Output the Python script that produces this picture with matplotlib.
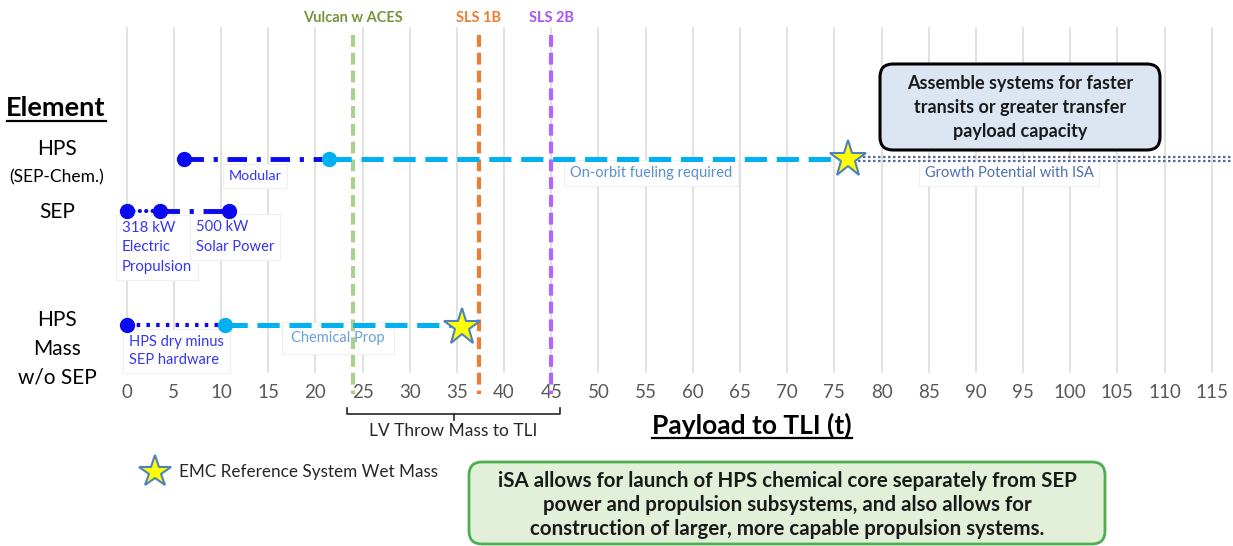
import matplotlib
matplotlib.use('Agg')
import matplotlib.pyplot as plt
from matplotlib.patches import FancyBboxPatch
from matplotlib.transforms import Affine2D

plt.rcParams['font.family'] = ['Lato', 'DejaVu Sans']
plt.rcParams['lines.scale_dashes'] = False

# ---------------- data ----------------
ticks = list(range(0, 116, 5))
launchers = ['Vulcan w ACES', 'SLS 1B', 'SLS 2B']
launch_mass = [24.0, 37.3, 45.0]
launch_colors = ['#a9d18e', '#f07c33', '#b366ff']
launch_text_colors = ['#77933c', '#f07c33', '#a855f7']

hps_modular = [6.1, 21.4]      # HPS (SEP-Chem.) modular segment
hps_wet = 76.4                 # HPS EMC reference wet mass
sep_points = [0.0, 3.5, 10.8]  # SEP: 0, 318 kW EP, 500 kW solar power
hpsws_dry = [0.0, 10.4]        # HPS w/o SEP: dry mass
hpsws_wet = 35.5               # HPS w/o SEP: wet mass
growth_end = 117.3

# ---------------- figure ----------------
W, H = 1233, 546
fig = plt.figure(figsize=(W / 100, H / 100), dpi=100)
ax = fig.add_axes([0, 0, 1, 1])
x0_px, px_per_t = 126.7, 9.435
ax.set_xlim(-x0_px / px_per_t, (W - x0_px) / px_per_t)
ax.set_ylim(H, 0)
ax.axis('off')
PIX = Affine2D().scale(1 / W, -1 / H).translate(0, 1) + fig.transFigure

DARK = '#0a0af0'
LIGHT = '#00b0f0'
LBLUE_TXT = '#3535f5'

y_hps, y_sep, y_wo = 159, 211, 325

# gridlines and tick labels
for t in ticks:
    ax.plot([t, t], [28, 372], color='#d9d9d9', lw=1.1, zorder=1)
    ax.text(t, 393, str(t), ha='center', va='center', fontsize=13.5, color='#595959')

# launch vehicle lines
for name, m, c, tc in zip(launchers, launch_mass, launch_colors, launch_text_colors):
    ax.plot([m, m], [35, 394], color=c, lw=3, dashes=(8.5, 4.3), zorder=3)
    ax.text(m, 18, name, ha='center', va='center', fontsize=10.5, fontweight='bold', color=tc)

# LV throw mass bracket
lo, hi = launch_mass[0] - 0.6, launch_mass[-1] + 0.9
mid = (lo + hi) / 2
ax.plot([lo, lo, hi, hi], [408, 414, 414, 408], color='#262626', lw=1.2, zorder=3)
ax.plot([mid, mid], [414, 420], color='#262626', lw=1.2, zorder=3)
ax.text(mid, 431, 'LV Throw Mass to TLI', ha='center', va='center', fontsize=12.5, color='#262626')

lbl_box = dict(boxstyle='square,pad=0.4', fc='white', ec='#f0f0f0', lw=0.8)

# HPS (SEP-Chem.) row
ax.plot(hps_modular, [y_hps, y_hps], color=DARK, lw=3.5, dashes=(14, 7, 3, 7), zorder=4)
ax.plot([hps_modular[1], hps_wet], [y_hps, y_hps], color=LIGHT, lw=3.6, dashes=(16, 7), zorder=4)
for dy in (-2, 2):
    ax.plot([hps_wet, growth_end], [y_hps + dy, y_hps + dy], color='#5a6a9a', lw=1.6,
            dashes=(1.8, 1.8), zorder=4)
ax.plot([hps_modular[0]], [y_hps], 'o', color=DARK, ms=10, zorder=5)
ax.plot([hps_modular[1]], [y_hps], 'o', color=LIGHT, ms=10, zorder=5)
ax.plot([hps_wet], [y_hps], '*', ms=28, mfc='#ffff00', mec='#4f81bd', mew=1.5, zorder=6)
ax.text(255, 176, 'Modular', transform=PIX, ha='center', va='center', fontsize=10.3,
        color=LBLUE_TXT, bbox=lbl_box, zorder=2)
ax.text(651, 173, 'On-orbit fueling required', transform=PIX, ha='center', va='center',
        fontsize=10.5, color='#5b8fd0', bbox=lbl_box, zorder=2)
ax.text(1009, 173, 'Growth Potential with ISA', transform=PIX, ha='center', va='center',
        fontsize=10.5, color='#4f6fae', bbox=lbl_box, zorder=2)

# SEP row
ax.plot(sep_points[:2], [y_sep, y_sep], color=DARK, lw=3, dashes=(0.1, 4.5),
        dash_capstyle='round', zorder=4)
ax.plot(sep_points[1:], [y_sep, y_sep], color=DARK, lw=3.5, dashes=(14, 7, 3, 7), zorder=4)
ax.plot(sep_points, [y_sep] * 3, 'o', color=DARK, ms=10, zorder=5)
ax.text(122, 247, '318 kW\nElectric\nPropulsion', transform=PIX, ha='left', va='center',
        fontsize=10.8, color=LBLUE_TXT, linespacing=1.5, bbox=lbl_box, zorder=2)
ax.text(196, 237, '500 kW\nSolar Power', transform=PIX, ha='left', va='center',
        fontsize=10.6, color=LBLUE_TXT, linespacing=1.5, bbox=lbl_box, zorder=2)

# HPS mass w/o SEP row
ax.plot(hpsws_dry, [y_wo, y_wo], color=DARK, lw=3, dashes=(2.5, 4.5), zorder=4)
ax.plot([hpsws_dry[1], hpsws_wet], [y_wo, y_wo], color=LIGHT, lw=3.6, dashes=(16, 7), zorder=4)
ax.plot([hpsws_dry[0]], [y_wo], 'o', color=DARK, ms=10, zorder=5)
ax.plot([hpsws_dry[1]], [y_wo], 'o', color=LIGHT, ms=10, zorder=5)
ax.plot([hpsws_wet], [y_wo + 2], '*', ms=28, mfc='#ffff00', mec='#4f81bd', mew=1.5, zorder=6)
ax.text(129, 351, 'HPS dry minus\nSEP hardware', transform=PIX, ha='left', va='center',
        fontsize=10.5, color=LBLUE_TXT, linespacing=1.35, bbox=lbl_box, zorder=2)
ax.text(338, 338, 'Chemical Prop', transform=PIX, ha='center', va='center',
        fontsize=10.5, color='#6a9fd8', bbox=dict(boxstyle='square,pad=0.6', fc='white',
                                                  ec='#f0f0f0', lw=0.8), zorder=2)

# left labels
ax.text(56, 108, 'Element', transform=PIX, ha='center', va='center', fontsize=19.5,
        fontweight='bold', color='black')
ax.plot([7, 106], [121, 121], transform=PIX, color='black', lw=1.6)
ax.text(57, 149, 'HPS', transform=PIX, ha='center', va='center', fontsize=15, color='black')
ax.text(57, 177, '(SEP-Chem.)', transform=PIX, ha='center', va='center', fontsize=12.5,
        color='black')
ax.text(57, 212, 'SEP', transform=PIX, ha='center', va='center', fontsize=15, color='black')
ax.text(57, 349, 'HPS\nMass\nw/o SEP', transform=PIX, ha='center', va='center',
        fontsize=15, color='black', linespacing=1.55)

# x-axis title
ax.text(752, 425, 'Payload to TLI (t)', transform=PIX, ha='center', va='center',
        fontsize=19, fontweight='bold', color='black')
ax.plot([652, 852], [438, 438], transform=PIX, color='black', lw=1.6)

# legend
ax.plot([155], [472], '*', transform=PIX, ms=24, mfc='#ffff00', mec='#4f81bd', mew=1.5)
ax.text(179, 472, 'EMC Reference System Wet Mass', transform=PIX, ha='left', va='center',
        fontsize=12.3, color='#262626')

# callout boxes
blue_box = FancyBboxPatch((880, 64), 280, 86, boxstyle='round,pad=0,rounding_size=13',
                          transform=PIX, fc='#dce6f2', ec='black', lw=2.2, zorder=7)
ax.add_patch(blue_box)
ax.text(1020, 107, 'Assemble systems for faster\ntransits or greater transfer\npayload capacity',
        transform=PIX, ha='center', va='center', fontsize=13, fontweight='bold',
        color='#1a1a1a', linespacing=1.5, zorder=8)

green_box = FancyBboxPatch((469, 462), 636, 82, boxstyle='round,pad=0,rounding_size=13',
                           transform=PIX, fc='#e2efd9', ec='#4caf50', lw=2, zorder=7)
ax.add_patch(green_box)
ax.text(787, 505, 'iSA allows for launch of HPS chemical core separately from SEP\n'
        'power and propulsion subsystems, and also allows for\n'
        'construction of larger, more capable propulsion systems.',
        transform=PIX, ha='center', va='center', fontsize=14.8, fontweight='bold',
        color='#1a1a1a', linespacing=1.22, zorder=8)

fig.savefig('out.png', dpi=100)
